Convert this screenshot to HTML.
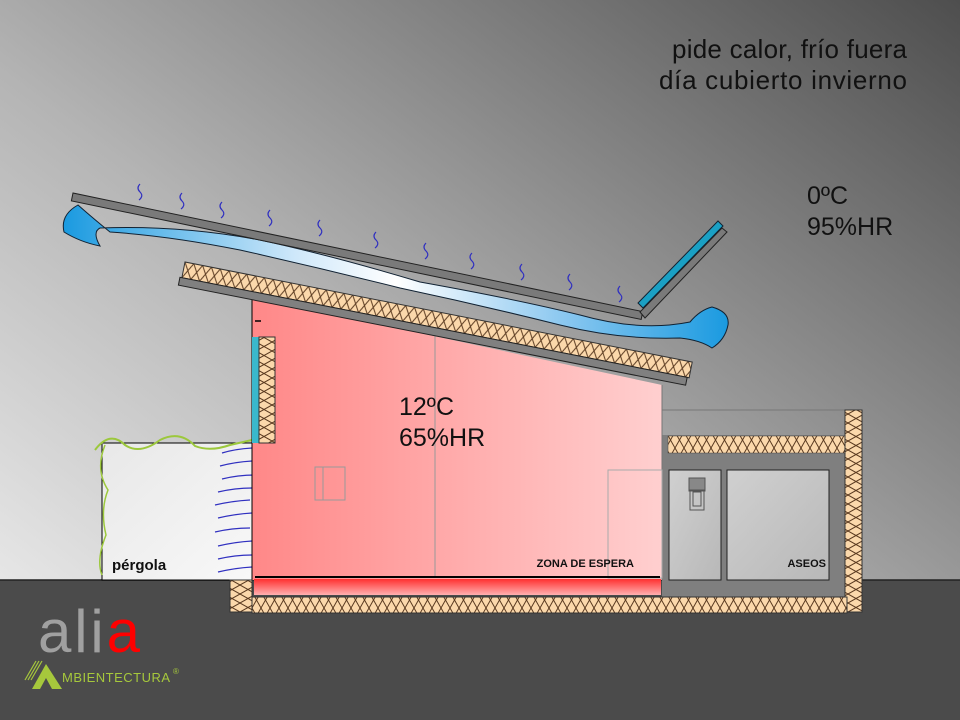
<!DOCTYPE html>
<html><head><meta charset="utf-8"><style>html,body{margin:0;padding:0;width:960px;height:720px;overflow:hidden}svg{display:block}</style></head>
<body>
<svg width="960" height="720" viewBox="0 0 960 720" xmlns="http://www.w3.org/2000/svg">
<defs>
<linearGradient id="bg" x1="0" y1="1" x2="1" y2="0">
<stop offset="0" stop-color="#f4f4f4"/><stop offset="0.45" stop-color="#b4b4b4"/><stop offset="1" stop-color="#4e4e4e"/>
</linearGradient>
<linearGradient id="pink" x1="0" y1="0" x2="1" y2="0">
<stop offset="0" stop-color="#ff8888"/><stop offset="1" stop-color="#ffcfcf"/>
</linearGradient>
<linearGradient id="red" x1="0" y1="0" x2="0" y2="1">
<stop offset="0" stop-color="#ff3030"/><stop offset="1" stop-color="#ffb0b0"/>
</linearGradient>
<linearGradient id="air" x1="0" y1="0" x2="1" y2="0">
<stop offset="0" stop-color="#1a9ae0"/><stop offset="0.35" stop-color="#cfe8fa"/><stop offset="0.5" stop-color="#ffffff"/><stop offset="0.75" stop-color="#8cc8f0"/><stop offset="1" stop-color="#1a9ae0"/>
</linearGradient>
<linearGradient id="room" x1="0" y1="0" x2="1" y2="1">
<stop offset="0" stop-color="#d0d0d0"/><stop offset="1" stop-color="#b8b8b8"/>
</linearGradient>
<linearGradient id="perg" x1="0" y1="0" x2="1" y2="1">
<stop offset="0" stop-color="#e8e8e8"/><stop offset="1" stop-color="#f8f8f8"/>
</linearGradient>
<pattern id="ins" width="9" height="16" patternUnits="userSpaceOnUse">
<rect width="9" height="16" fill="#fbd8ab"/>
<path d="M0 0 L9 16 M9 0 L0 16" stroke="#5a3a20" stroke-width="1" fill="none"/>
</pattern>
<pattern id="insv" width="16" height="9" patternUnits="userSpaceOnUse">
<rect width="16" height="9" fill="#fbd8ab"/>
<path d="M0 0 L16 9 M0 9 L16 0" stroke="#5a3a20" stroke-width="1" fill="none"/>
</pattern>
</defs>
<rect width="960" height="720" fill="url(#bg)"/>
<rect x="0" y="580" width="960" height="140" fill="#4b4b4b"/>
<line x1="0" y1="580" x2="960" y2="580" stroke="#222" stroke-width="1.5"/>

<!-- pergola -->
<rect x="102" y="443" width="150" height="137" fill="url(#perg)" stroke="#000" stroke-width="1"/>
<path d="M95 450 Q110 430 125 445 Q140 455 160 440 Q180 430 195 446 Q210 452 230 445 L252 440" stroke="#9cc83c" stroke-width="2" fill="none"/>
<path d="M105 445 Q95 470 108 490 Q100 510 106 535 Q96 560 102 575" stroke="#9cc83c" stroke-width="1.5" fill="none"/>
<g stroke="#3030c0" stroke-width="1.2" fill="none">
<path d="M222 453 Q235 449 252 448"/><path d="M220 466 Q235 462 252 461"/><path d="M222 479 Q238 475 255 475"/>
<path d="M218 492 Q235 488 252 488"/><path d="M215 505 Q232 501 250 500"/><path d="M218 518 Q235 514 252 513"/>
<path d="M215 532 Q232 528 250 528"/><path d="M218 546 Q235 542 252 541"/><path d="M218 559 Q235 555 252 555"/>
<path d="M218 572 Q235 568 252 567"/>
</g>
<text x="112" y="570" font-family="Liberation Sans, sans-serif" font-size="15" font-weight="bold" fill="#111">pérgola</text>

<!-- aseos block -->
<line x1="662" y1="410" x2="845" y2="410" stroke="#777" stroke-width="1"/>
<rect x="662" y="435" width="190" height="165" fill="#7f7f7f"/>
<rect x="668" y="436" width="180" height="17" fill="url(#ins)" stroke="#444" stroke-width="0.5"/>
<rect x="845" y="410" width="17" height="202" fill="url(#insv)" stroke="#333" stroke-width="1"/>
<rect x="669" y="470" width="52" height="110" fill="url(#room)" stroke="#222" stroke-width="1"/>
<rect x="727" y="470" width="102" height="110" fill="url(#room)" stroke="#222" stroke-width="1"/>
<rect x="689" y="478" width="16" height="13" fill="#888" stroke="#555"/>
<rect x="690" y="490" width="14" height="20" fill="none" stroke="#555"/>
<rect x="693" y="492" width="8" height="14" fill="none" stroke="#555"/>
<text x="826" y="567" text-anchor="end" font-family="Liberation Sans, sans-serif" font-size="11" font-weight="bold" fill="#111">ASEOS</text>

<!-- pink room -->
<polygon points="252,297 662,385 662,580 252,580" fill="url(#pink)"/>
<line x1="252" y1="297" x2="252" y2="580" stroke="#000" stroke-width="1"/>
<line x1="662" y1="385" x2="662" y2="580" stroke="#777" stroke-width="1"/>
<line x1="435" y1="335" x2="435" y2="578" stroke="#999" stroke-width="1"/>
<rect x="608" y="470" width="54" height="108" fill="none" stroke="#aaa" stroke-width="1"/>
<rect x="315" y="467" width="30" height="33" fill="none" stroke="#999"/>
<line x1="323" y1="467" x2="323" y2="500" stroke="#999"/>
<line x1="255" y1="321" x2="261" y2="321" stroke="#000" stroke-width="1.5"/>
<rect x="252" y="337" width="7" height="106" fill="#3ab8cc"/>
<rect x="259" y="337" width="16" height="106" fill="url(#insv)" stroke="#333" stroke-width="1"/>
<line x1="255" y1="577" x2="660" y2="577" stroke="#000" stroke-width="2"/>
<rect x="254" y="579" width="407" height="16" fill="url(#red)"/>
<rect x="230" y="580" width="22" height="32" fill="url(#insv)" stroke="#333" stroke-width="1"/>
<rect x="252" y="597" width="595" height="16" fill="url(#ins)" stroke="#333" stroke-width="1"/>
<text x="634" y="567" text-anchor="end" font-family="Liberation Sans, sans-serif" font-size="11" font-weight="bold" fill="#111">ZONA  DE  ESPERA</text>

<!-- insulated roof -->
<g transform="translate(185,262) rotate(11.16)">
<rect x="0" y="0" width="517" height="16" fill="url(#ins)" stroke="#333" stroke-width="1"/>
<rect x="-2" y="16" width="517" height="8" fill="#808080" stroke="#222" stroke-width="1"/>
</g>

<!-- airflow -->
<path d="M78 205 Q60 215 64 232 Q80 242 100 246 Q92 232 100 228 Q180 225 260 240 Q330 255 420 282 Q520 300 580 315 Q640 332 690 322 Q700 310 712 307 Q730 312 728 325 Q725 340 712 348 Q700 340 680 338 Q620 340 560 325 Q480 305 400 288 Q320 268 240 250 Q170 236 110 232 Q95 220 78 205 Z" fill="url(#air)" stroke="#123" stroke-width="1"/>

<!-- outer roof sheet -->
<g transform="translate(73,193) rotate(11.76)">
<rect x="0" y="0" width="582" height="8" fill="#7a7a7a" stroke="#222" stroke-width="1"/>
</g>
<polygon points="640,312 645,318 727,232 722,228" fill="#7a7a7a" stroke="#222" stroke-width="1"/>
<polygon points="638,303 643,308 723,226 718,221" fill="#1aa0c4" stroke="#123" stroke-width="1"/>

<!-- evaporation squiggles -->
<g stroke="#3030c0" stroke-width="1.2" fill="none">
<path d="M140 184 q-4 4 0 8 q4 4 -1 8"/><path d="M182 193 q-4 4 0 8 q4 4 -1 8"/><path d="M222 202 q-4 4 0 8 q4 4 -1 8"/>
<path d="M270 210 q-4 4 0 8 q4 4 -1 8"/><path d="M320 220 q-4 4 0 8 q4 4 -1 8"/><path d="M376 232 q-4 4 0 8 q4 4 -1 8"/>
<path d="M426 243 q-4 4 0 8 q4 4 -1 8"/><path d="M472 253 q-4 4 0 8 q4 4 -1 8"/><path d="M522 264 q-4 4 0 8 q4 4 -1 8"/>
<path d="M570 274 q-4 4 0 8 q4 4 -1 8"/><path d="M620 286 q-4 4 0 8 q4 4 -1 8"/>
</g>

<g font-family="Liberation Sans, sans-serif" fill="#111">
<text x="907" y="58" text-anchor="end" font-size="26" textLength="235">pide calor, frío fuera</text>
<text x="907" y="89" text-anchor="end" font-size="26" textLength="248">día cubierto  invierno</text>
<text x="807" y="204" font-size="25">0ºC</text>
<text x="807" y="235" font-size="25">95%HR</text>
<text x="399" y="415" font-size="25">12ºC</text>
<text x="399" y="446" font-size="25">65%HR</text>
</g>

<!-- logo -->
<text x="38" y="652" font-family="Liberation Sans, sans-serif" font-size="60" fill="#a0a0a0" textLength="102">ali<tspan fill="#ff0000">a</tspan></text>
<polygon points="32,689 46,664 62,689" fill="#a6c83c"/>
<polygon points="40,689 46,678 52,689" fill="#4b4b4b"/>
<g stroke="#a6c83c" stroke-width="1.2"><line x1="25" y1="680" x2="36" y2="661"/><line x1="28" y1="680" x2="39" y2="661"/><line x1="31" y1="680" x2="42" y2="661"/></g>
<text x="62" y="682" font-family="Liberation Sans, sans-serif" font-size="13" fill="#a6c83c" textLength="108">MBIENTECTURA</text>
<text x="173" y="674" font-family="Liberation Sans, sans-serif" font-size="8" fill="#a6c83c">®</text>
</svg>
</body></html>
